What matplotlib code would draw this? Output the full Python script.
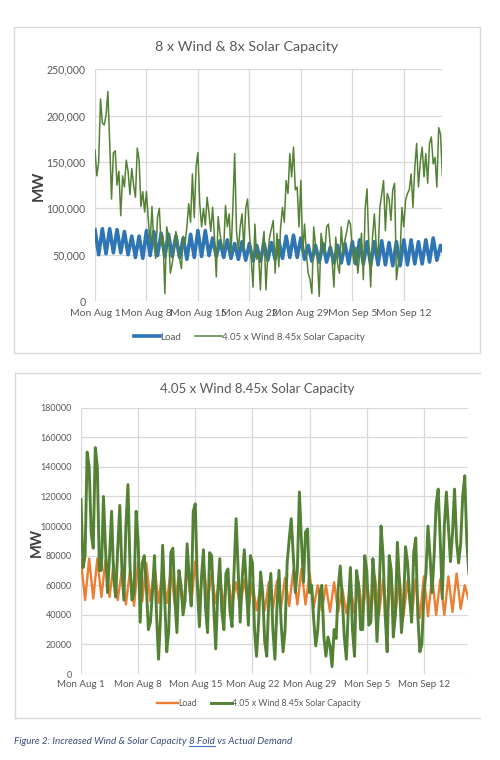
import numpy as np
import pandas as pd
import matplotlib
matplotlib.use("Agg")
import matplotlib.pyplot as plt
from matplotlib.ticker import FuncFormatter
from matplotlib.patches import Rectangle
from matplotlib.lines import Line2D

plt.rcParams['font.family'] = ['Lato', 'DejaVu Sans']

# load, thousand MW, 12 hour steps from Mon Aug 1 2022 (day peak, night trough)
load_k = [77, 50, 78, 51, 78, 52, 77, 52, 75, 50, 70, 47, 70, 46, 76, 49,
          75, 49, 73, 48, 72, 48, 70, 47, 68, 45, 72, 47, 76, 48, 76, 49,
          68, 48, 65, 47, 66, 46, 62, 45, 64, 44, 62, 43, 60, 43, 62, 44,
          63, 45, 65, 46, 70, 47, 71, 47, 68, 45, 60, 43, 60, 42, 62, 42,
          58, 41, 60, 41, 62, 40, 64, 40, 66, 40, 64, 39, 64, 39, 65, 39,
          63, 38, 64, 38, 66, 39, 66, 40, 64, 40, 66, 42, 68, 44, 60, 50]

# top chart generation, thousand MW, 6 hour steps
gen_top_k = [163, 135, 150, 218, 192, 190, 200, 226, 170, 110, 160, 162,
             125, 140, 92, 135, 123, 152, 140, 115, 143, 125, 112, 165,
             152, 102, 118, 96, 118, 88, 62, 102, 62, 46, 90, 100,
             60, 70, 8, 80, 70, 30, 40, 55, 75, 65, 46, 35,
             70, 62, 80, 105, 85, 137, 90, 145, 160, 105, 80, 100,
             82, 112, 95, 75, 101, 69, 26, 91, 73, 60, 55, 103,
             80, 94, 51, 100, 159, 75, 55, 80, 94, 55, 100, 110,
             75, 45, 15, 83, 45, 51, 12, 60, 75, 12, 50, 69,
             78, 87, 30, 73, 37, 80, 101, 85, 130, 116, 159, 134,
             166, 120, 123, 80, 130, 51, 83, 51, 30, 23, 8, 80,
             60, 44, 5, 73, 60, 51, 80, 83, 60, 44, 15, 69,
             40, 30, 80, 51, 66, 75, 87, 83, 55, 40, 58, 30,
             50, 73, 23, 100, 121, 60, 15, 69, 94, 60, 48, 101,
             115, 130, 76, 116, 110, 87, 120, 127, 23, 40, 51, 101,
             80, 109, 116, 120, 137, 101, 144, 170, 123, 150, 166, 134,
             159, 127, 170, 177, 148, 155, 123, 187, 180, 135]

# bottom chart generation, thousand MW, 6 hour steps
gen_bot_k = [118, 72, 80, 150, 140, 95, 85, 153, 140, 70, 70, 120,
             85, 55, 80, 110, 65, 52, 85, 114, 72, 50, 100, 128,
             73, 50, 55, 110, 90, 35, 75, 80, 60, 30, 35, 55,
             80, 40, 10, 40, 87, 50, 15, 30, 82, 85, 50, 28,
             70, 60, 40, 50, 88, 65, 46, 110, 115, 60, 32, 65,
             84, 45, 28, 82, 80, 46, 17, 55, 78, 42, 30, 68,
             71, 42, 32, 70, 105, 70, 35, 65, 84, 60, 33, 80,
             75, 30, 12, 35, 69, 55, 22, 12, 50, 68, 30, 10,
             45, 70, 35, 15, 30, 75, 91, 105, 80, 55, 70, 123,
             90, 62, 96, 98, 55, 60, 37, 19, 30, 55, 60, 25,
             12, 25, 19, 5, 30, 24, 58, 73, 51, 25, 10, 45,
             72, 30, 12, 70, 60, 30, 30, 80, 70, 33, 35, 78,
             60, 22, 50, 100, 80, 40, 15, 80, 70, 25, 40, 89,
             62, 28, 45, 86, 75, 52, 35, 82, 92, 40, 15, 20,
             55, 68, 100, 80, 55, 80, 115, 125, 90, 51, 100, 123,
             100, 76, 95, 125, 90, 75, 88, 120, 134, 90, 68]

x_labels = ["Mon Aug 1", "Mon Aug 8", "Mon Aug 15", "Mon Aug 22",
            "Mon Aug 29", "Mon Sep 5", "Mon Sep 12"]
titles = ["8 x Wind & 8x Solar Capacity", "4.05 x Wind 8.45x Solar Capacity"]
series_names = ["Load", "4.05 x Wind 8.45x Solar Capacity"]

start = pd.Timestamp("2022-08-01")
load_t = pd.date_range(start, periods=len(load_k), freq="12h")
top_t = pd.date_range(start, periods=len(gen_top_k), freq="6h")
bot_t = pd.date_range(start, periods=len(gen_bot_k), freq="6h")
mondays = pd.date_range(start, periods=len(x_labels), freq="7D")

load = np.array(load_k) * 1000
gen_top = np.array(gen_top_k) * 1000
gen_bot = np.array(gen_bot_k) * 1000

W, H = 500, 760
fig = plt.figure(figsize=(W / 100, H / 100), dpi=100)
grid_c = "#d9d9d9"
tick_c = "#595959"


def box(x0, y0, x1, y1):
    return [x0 / W, 1 - y1 / H, (x1 - x0) / W, (y1 - y0) / H]


def style(ax, pad_y, pad_x, fs_y, fs_x):
    for s in ax.spines.values():
        s.set_visible(False)
    ax.grid(True, color=grid_c, lw=0.9)
    ax.set_axisbelow(True)
    ax.tick_params(axis="y", length=0, pad=pad_y, labelsize=fs_y, labelcolor=tick_c)
    ax.tick_params(axis="x", length=0, pad=pad_x, labelsize=fs_x, labelcolor=tick_c)
    ax.set_xticks(mondays)
    ax.set_xticklabels(x_labels)


# chart frames
fig.patches.append(Rectangle((14 / W, 1 - 353 / H), 466 / W, 326 / H,
                             transform=fig.transFigure, fill=False,
                             ec=grid_c, lw=1))
for xs, ys in [([15, 15], [373, 718]), ([15, 480], [373, 373]), ([15, 480], [718, 718])]:
    fig.lines.append(Line2D([x / W for x in xs], [1 - y / H for y in ys],
                            transform=fig.transFigure, color=grid_c, lw=1))

# top chart
ax1 = fig.add_axes(box(95, 69.3, 442, 301))
ax1.plot(load_t, load, color="#2e75b6", lw=2.6, label=series_names[0])
ax1.plot(top_t, gen_top, color="#548235", lw=1.1, label=series_names[1])
ax1.set_ylim(0, 250000)
ax1.set_yticks(np.arange(0, 250001, 50000))
ax1.yaxis.set_major_formatter(FuncFormatter(lambda v, p: "{:,.0f}".format(v)))
ax1.set_xlim(start, start + pd.Timedelta(days=47.2))
style(ax1, 7, 5.5, 7.6, 7.5)
fig.text(247 / W, 1 - 47 / H, titles[0], ha="center", va="center",
         fontsize=10.3, color=tick_c)
fig.text(39 / W, 1 - 186 / H, "MW", rotation=90, ha="center", va="center",
         fontsize=11, fontweight="bold", color="#404040")
ax1.legend(loc="center", bbox_to_anchor=(249 / W, 1 - 337 / H),
           bbox_transform=fig.transFigure, ncol=2, frameon=False,
           fontsize=7.0, handlelength=2.7, handletextpad=0.0,
           columnspacing=1.5, labelcolor=tick_c)

# bottom chart
ax2 = fig.add_axes(box(81, 407.7, 468, 674))
ax2.plot(load_t, load, color="#ed7d31", lw=1.7, label=series_names[0])
ax2.plot(bot_t, gen_bot, color="#548235", lw=2.1, label=series_names[1])
ax2.set_ylim(0, 180000)
ax2.set_yticks(np.arange(0, 180001, 20000))
ax2.yaxis.set_major_formatter(FuncFormatter(lambda v, p: "{:.0f}".format(v)))
ax2.set_xlim(start, start + pd.Timedelta(days=47.4))
style(ax2, 6.5, 4.5, 6.5, 7.0)
fig.text(257 / W, 1 - 389 / H, titles[1], ha="center", va="center",
         fontsize=9.5, color=tick_c)
fig.text(37 / W, 1 - 542 / H, "MW", rotation=90, ha="center", va="center",
         fontsize=10.5, fontweight="bold", color="#404040")
ax2.legend(loc="center", bbox_to_anchor=(259 / W, 1 - 704 / H),
           bbox_transform=fig.transFigure, ncol=2, frameon=False,
           fontsize=6.3, handlelength=2.4, handletextpad=0.0,
           columnspacing=1.6, labelcolor=tick_c)

# caption, with the spell-check underline under "8 Fold"
cap_c = "#3b4f7a"
cap_fs = 7.1
r = fig.canvas.get_renderer()
t1 = fig.text(14 / W, 1 - 742 / H, "Figure 2: Increased Wind & Solar Capacity ",
              fontsize=cap_fs, style="italic", color=cap_c, va="center")
bb = t1.get_window_extent(r)
t2 = fig.text(bb.x1 / W, 1 - 742 / H, "8 Fold", fontsize=cap_fs, style="italic",
              color=cap_c, va="center")
bb2 = t2.get_window_extent(r)
fig.lines.append(Line2D([bb2.x0 / W, bb2.x1 / W], [(bb2.y0 + 0.5) / H] * 2,
                        transform=fig.transFigure, color="#4472c4", lw=0.8))
fig.text(bb2.x1 / W, 1 - 742 / H, " vs Actual Demand", fontsize=cap_fs,
         style="italic", color=cap_c, va="center")

fig.savefig("out.png", dpi=100)
